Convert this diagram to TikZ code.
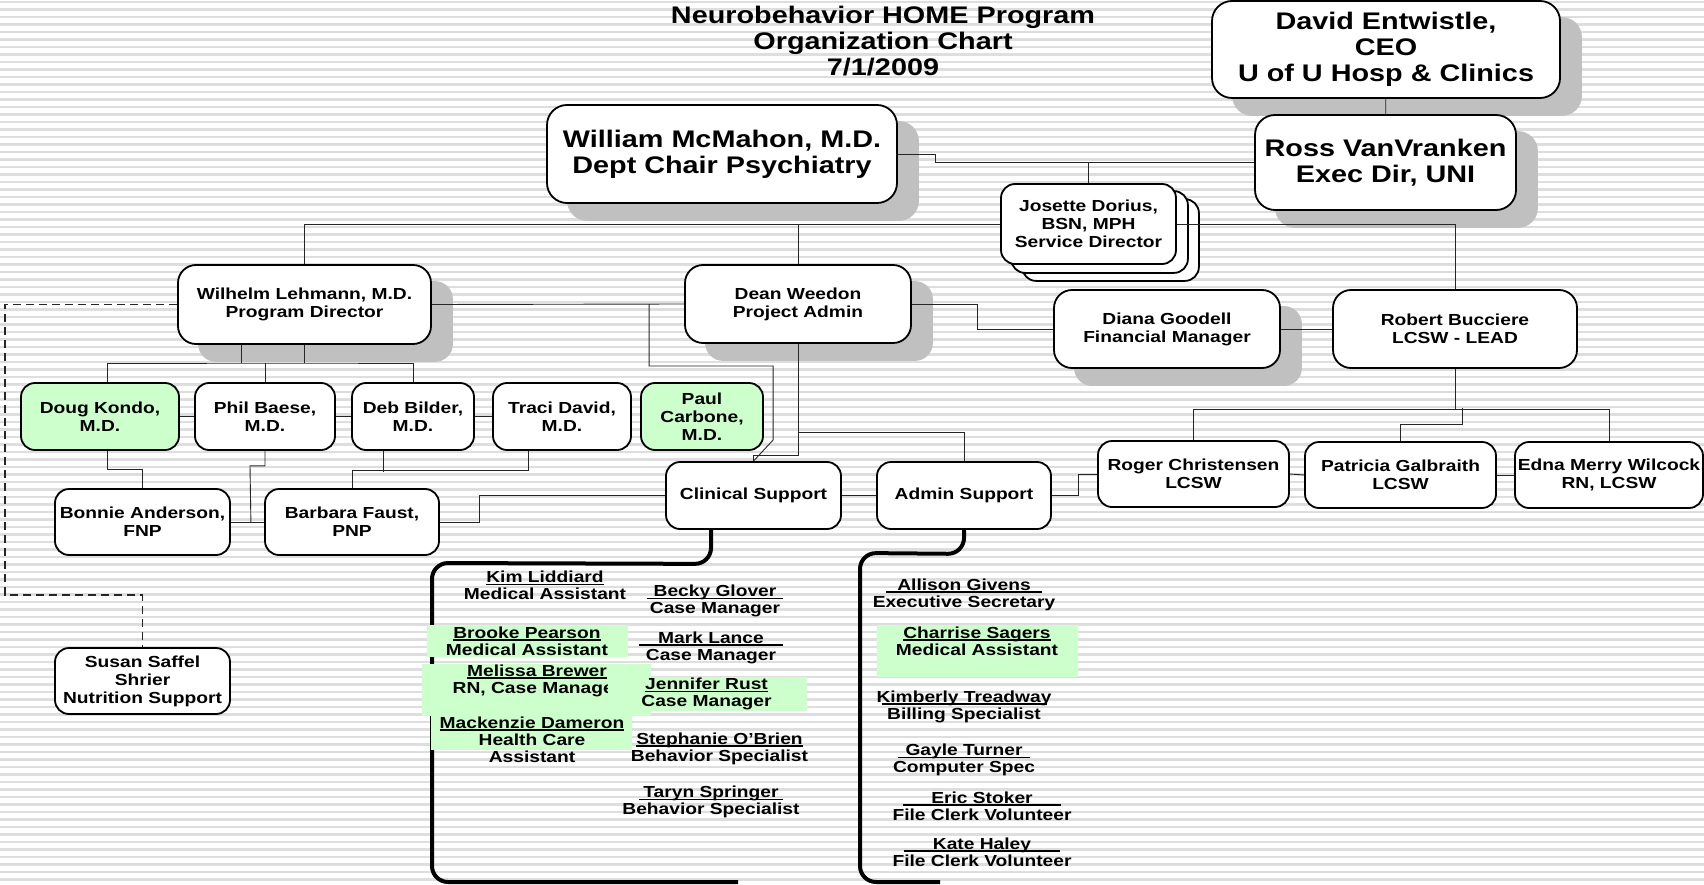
\documentclass[tikz,border=0pt]{standalone}
\usepackage{fontspec}
\setmainfont{Liberation Sans}[FakeStretch=1.2]
\usepackage{tikz}
\usetikzlibrary{calc}

\pgfdeclarelayer{stripes}
\pgfdeclarelayer{shade}
\pgfdeclarelayer{links}
\pgfsetlayers{stripes,shade,links,main}

\definecolor{mint}{RGB}{204,255,204}
\definecolor{shadegrey}{RGB}{192,192,192}
\definecolor{stripegrey}{RGB}{222,222,222}

% underline through the baseline, optional overhang on both sides
\newcommand{\ulname}[2][0pt]{\setbox0\hbox{#2}\makebox[\wd0]{\makebox[0pt]{\rule[-2.5pt]{\dimexpr\wd0+#1+#1\relax}{1.3pt}}}\kern-\wd0\box0}

\tikzset{
	unit/.style={draw, line width=1.8pt, rounded corners=14pt, fill=white, align=center, inner sep=0pt, font=\fontsize{16}{18}\selectfont\bfseries},
	chief/.style={unit, rounded corners=20pt, font=\fontsize{24}{26}\selectfont\bfseries},
	staff/.style={align=center, inner sep=0pt, font=\fontsize{16}{17}\selectfont\bfseries},
	link/.style={line width=0.9pt, black!85},
	bracket/.style={line width=4pt, rounded corners=16pt},
}

\begin{document}
\begin{tikzpicture}[x=1pt, y=-1pt]
	
	\useasboundingbox (0,0) rectangle (1704,885);
	\begin{pgfonlayer}{stripes}
		\fill[white] (0,0) rectangle (1704,885);
		\foreach \y in {2,9.5,...,885}
			\draw[stripegrey, line width=2.5pt] (0,\y) -- (1704,\y);
	\end{pgfonlayer}
	
	\node[font=\fontsize{24}{26}\selectfont\bfseries, align=center, inner sep=0pt] (title) at (883,41) {Neurobehavior HOME Program\\Organization Chart\\7/1/2009};
	
	\node[chief, minimum width=348pt, minimum height=97pt] (david) at (1386,49.5) {David Entwistle,\\CEO\\U of U Hosp \& Clinics};
	\node[chief, minimum width=261pt, minimum height=95pt] (ross) at (1385.5,162.5) {Ross VanVranken\\Exec Dir, UNI};
	\node[chief, minimum width=350pt, minimum height=98pt] (mcmahon) at (722,154) {William McMahon, M.D.\\Dept Chair Psychiatry};
	\node[unit, minimum width=175pt, minimum height=80pt] (josette) at (1088.5,224) {Josette Dorius,\\BSN, MPH\\Service Director};
	
	\node[unit, rounded corners=18pt, minimum width=253pt, minimum height=79pt] (lehmann) at (304.5,304.5) {Wilhelm Lehmann, M.D.\\Program Director};
	\node[unit, rounded corners=18pt, minimum width=226pt, minimum height=78pt] (dean) at (798,304) {Dean Weedon\\Project Admin};
	\node[unit, rounded corners=18pt, minimum width=226pt, minimum height=78pt] (diana) at (1167,329) {Diana Goodell\\Financial Manager};
	\node[unit, rounded corners=18pt, minimum width=244pt, minimum height=78pt] (robert) at (1455,329) {Robert Bucciere\\LCSW - LEAD};
	
	\node[unit, fill=mint, minimum width=158pt, minimum height=67pt] (doug) at (100,416.5) {Doug Kondo,\\M.D.};
	\node[unit, minimum width=140pt, minimum height=67pt] (phil) at (265,416.5) {Phil Baese,\\M.D.};
	\node[unit, minimum width=122pt, minimum height=67pt] (deb) at (413,416.5) {Deb Bilder,\\M.D.};
	\node[unit, minimum width=138pt, minimum height=67pt] (traci) at (562,416.5) {Traci David,\\M.D.};
	\node[unit, fill=mint, minimum width=122pt, minimum height=67pt] (paul) at (702,416.5) {Paul\\Carbone,\\M.D.};
	\node[unit, minimum width=175pt, minimum height=66pt] (bonnie) at (142.5,522) {Bonnie Anderson,\\FNP};
	\node[unit, minimum width=174pt, minimum height=66pt] (barbara) at (352,522) {Barbara Faust,\\PNP};
	\node[unit, minimum width=175pt, minimum height=66pt] (susan) at (142.5,681) {Susan Saffel\\Shrier\\Nutrition Support};
	
	\node[unit, minimum width=175pt, minimum height=67pt] (clinical) at (753.5,495.5) {Clinical Support};
	\node[unit, minimum width=174pt, minimum height=67pt] (admin) at (964,495.5) {Admin Support};
	\node[unit, minimum width=191pt, minimum height=66pt] (roger) at (1193.5,474) {Roger Christensen\\LCSW};
	\node[unit, minimum width=191pt, minimum height=66pt] (patricia) at (1400.5,475) {Patricia Galbraith\\LCSW};
	\node[unit, minimum width=188pt, minimum height=66pt] (edna) at (1609,475) {Edna Merry Wilcock\\RN, LCSW};
	
	% shadows and the stacked cards
	\begin{pgfonlayer}{shade}
		\foreach \n in {david,ross,mcmahon}
			\fill[shadegrey, rounded corners=20pt] ($(\n.north west)+(21,17)$) rectangle ($(\n.south east)+(21,17)$);
		\foreach \n in {lehmann,dean,diana}
			\fill[shadegrey, rounded corners=18pt] ($(\n.north west)+(21,17)$) rectangle ($(\n.south east)+(21,17)$);
		\foreach \s in {2,1}
			\draw[fill=white, line width=1.8pt, rounded corners=14pt] ($(josette.north west)+(11*\s,8*\s)$) rectangle ($(josette.south east)+(11*\s,8*\s)$);
	\end{pgfonlayer}
	
	\begin{pgfonlayer}{links}
		\draw[link] (david) -- (ross);
		\draw[link] (mcmahon.east) -- ++(38,0) |- (ross.west);
		\draw[link] (josette.north) -- (josette.north |- ross.west);
		\draw[link] (lehmann.north) |- (josette.west);
		\draw[link] (josette.east) -| (robert.north);
		\draw[link] (dean.north) -- (dean.north |- josette.west);
		
		% Lehmann group
		\coordinate (lbus) at (304.5,363);
		\draw[link] (lehmann.south) -- (lbus);
		\draw[link] ([xshift=-63.5pt]lehmann.south) -- ([xshift=-63.5pt]lehmann.south |- lbus);
		\draw[link] ([xshift=7pt]doug.north) |- (lbus) -| (deb.north);
		\draw[link] (phil.north) -- (phil.north |- lbus);
		\draw[link] (doug.east) -- (phil.west);
		\draw[link] (phil.east) -- (deb.west);
		\draw[link] (deb.east) -- (traci.west);
		\draw[link] ([xshift=7pt]doug.south) -- ++(0,19) -| (bonnie.north);
		\draw[link] (bonnie.east) -- (barbara.west);
		\draw[link] (phil.south) -- ++(0,15) -- ++(-15,0) -- ($(bonnie.east)+(20,0)$);
		\draw[link] ([xshift=-30pt]deb.south) -- ++(0,21);
		\draw[link] (barbara.north) -- ++(0,-18) -| ([xshift=-34pt]traci.south);
		\draw[link] (barbara.east) -- ++(40,0) |- (clinical.west);
		\draw[link, line width=1.2pt, dash pattern=on 8pt off 5pt] (lehmann.west) -| (5,595) -| (susan.north);
		
		% Weedon group
		\draw[link] (lehmann.east) -- (dean.west);
		\draw[link] ($(dean.west)+(-35,0)$) -- ++(0,62) -- ++(124,0) -- ++(0,74) -- (clinical.north);
		\draw[link] (dean.south) -- ++(0,112) -| (clinical.north);
		\draw[link] ($(dean.south)+(0,89)$) -| (admin.north);
		\draw[link] (clinical.east) -- (admin.west);
		\draw[link] (dean.east) -- ++(66,0) |- (diana.west);
		\draw[link] (diana.east) -- (robert.west);
		
		% Bucciere group
		\draw[link] (robert.south) -- ++(0,41) coordinate (rbus);
		\draw[link] (roger.north) |- (rbus) -| (edna.north);
		\draw[link] (patricia.north) -- ++(0,-17) -- ++(62,0) -- ++(0,-16);
		\draw[link] (admin.east) -- ++(27,0) |- (roger.west);
		\draw[link] (roger.east) -- (patricia.west);
		\draw[link] (patricia.east) -- (edna.west);
	\end{pgfonlayer}
	
	% staff lists
	\draw[bracket] ([xshift=-42.5pt]clinical.south) -- ++(0,34) -- (432,563) -- (432,882) -- (738,882);
	\draw[bracket] (admin.south) -- ++(0,24) -- (860,553) -- (860,882) -- (940,882);
	
	\fill[mint] (427,625) rectangle (628,657);
	\fill[mint] (422,664) rectangle (651,716);
	\fill[mint] (640,677) rectangle (807,711);
	\fill[mint] (431,716) rectangle (632,750);
	\fill[mint] (877,625) rectangle (1078,677);
	
	\node[staff] (kim) at (545,585.5) {\ulname{Kim Liddiard}\\Medical Assistant};
	\node[staff] (becky) at (715,601) {\ulname[7pt]{Becky Glover}\\Case Manager};
	\node[staff] (brooke) at (527,641) {\ulname{Brooke Pearson}\\Medical Assistant};
	\node[staff] (mark) at (711,647.5) {\ulname[19pt]{Mark Lance}\\Case Manager};
	\begin{scope}
		\clip (400,660) rectangle (607,720);
		\node[staff] (melissa) at (537,680.5) {\ulname{Melissa Brewer}\\RN, Case Manager};
	\end{scope}
	\node[staff] (jennifer) at (706.5,694) {\ulname{Jennifer Rust}\\Case Manager};
	\node[staff] (mackenzie) at (532,739.5) {\ulname{Mackenzie Dameron}\\Health Care\\Assistant};
	\node[staff] (stephanie) at (719.5,748.5) {\ulname{Stephanie O'Brien}\\Behavior Specialist};
	\node[staff] (taryn) at (711,802) {\ulname[4.5pt]{Taryn Springer}\\Behavior Specialist};
	
	\node[staff] (allison) at (964,594.5) {\ulname[11.5pt]{Allison Givens}\\Executive Secretary};
	\node[staff] (charrise) at (977,641) {\ulname{Charrise Sagers}\\Medical Assistant};
	\node[staff] (kimberly) at (964,706.5) {\ulname[-5pt]{Kimberly Treadway}\\Billing Specialist};
	\node[staff] (gayle) at (964,760) {\ulname[7.5pt]{Gayle Turner}\\Computer Spec};
	\node[staff] (eric) at (982,806) {\ulname[28pt]{Eric Stoker}\\File Clerk Volunteer};
	\node[staff] (kate) at (982,852) {\ulname[29pt]{Kate Haley}\\File Clerk Volunteer};
	
\end{tikzpicture}
\end{document}
